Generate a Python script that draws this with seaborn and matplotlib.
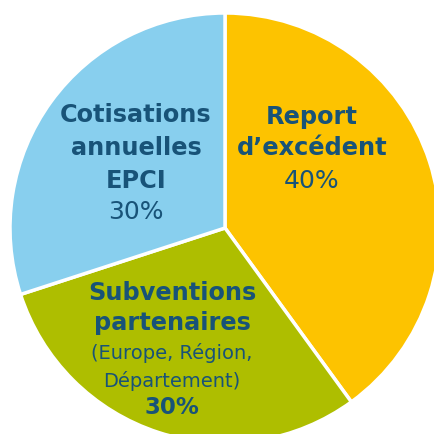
import matplotlib
matplotlib.use("Agg")
import matplotlib.pyplot as plt
import seaborn as sns

labels = ["Report d\u2019excédent", "Subventions partenaires", "Cotisations annuelles EPCI"]
values = [40, 30, 30]
colors = ["#FDC300", "#AEBE00", "#88CFEE"]
text_color = "#185378"

sns.set_theme(style="white")
plt.rcParams["font.family"] = ["DejaVu Sans"]

fig = plt.figure(figsize=(4.35, 4.34), dpi=100)
ax = fig.add_axes([0, 0, 1, 1])
ax.pie(values, colors=colors, startangle=90, counterclock=False, radius=1.0,
       wedgeprops=dict(edgecolor="white", linewidth=2.5))
S = 215.0
cx, cy = 225.0, 228.0
ax.set_xlim(-cx / S, (435 - cx) / S)
ax.set_ylim(-(434 - cy) / S, cy / S)
ax.set_aspect("auto")
ax.axis("off")

def px(x, y):
    return (x - cx) / S, (cy - y) / S

def put(x, y, s, bold=True, size=17.3):
    xd, yd = px(x, y)
    ax.text(xd, yd, s, ha="center", va="center", color=text_color,
            fontsize=size, fontweight="bold" if bold else "normal")

# Report d'excédent
put(312, 117, "Report")
put(312, 148, "d\u2019excédent")
put(312, 181, f"{values[0]}%", bold=False, size=18)
# Cotisations
put(136, 115, "Cotisations")
put(136, 148, "annuelles")
put(136, 181, "EPCI")
put(136, 212, f"{values[2]}%", bold=False, size=18)
# Subventions
put(172, 293, "Subventions")
put(172, 323, "partenaires")
put(172, 353, "(Europe, Région,", bold=False, size=14)
put(172, 381, "Département)", bold=False, size=14)
put(172, 408, f"{values[1]}%", size=16.5)

fig.savefig("out.png", dpi=100)
